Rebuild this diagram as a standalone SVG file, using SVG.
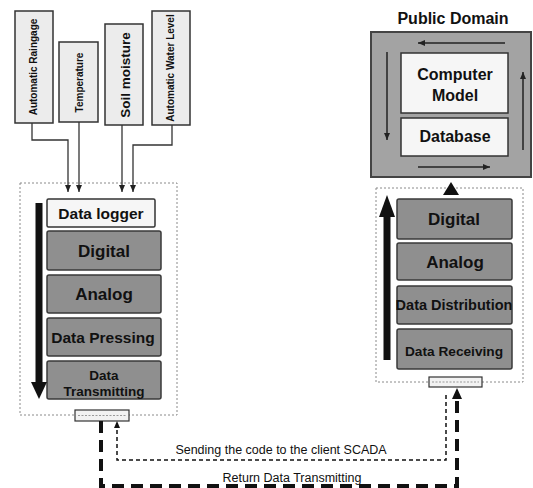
<svg xmlns="http://www.w3.org/2000/svg" width="533" height="488" viewBox="0 0 533 488">
  <style>
    text { font-family: "Liberation Sans", Arial, sans-serif; font-weight: bold; fill: #111; }
    .sensor { fill: #ececec; stroke: #333; stroke-width: 1.5; }
    .stage { fill: #8f8f8f; stroke: #3a3a3a; stroke-width: 1.5; }
    .white { fill: #f6f6f6; stroke: #333; stroke-width: 1.5; }
    .frame { fill: none; stroke: #8a8a8a; stroke-width: 1; stroke-dasharray: 2 2; }
    .wire { fill: none; stroke: #333; stroke-width: 1.3; }
    .thin { fill: none; stroke: #222; stroke-width: 1.5; }
    .port { fill: #f2f2f2; stroke: #333; stroke-width: 1.2; }
    .portdots { stroke: #999; stroke-width: 1; stroke-dasharray: 2 1.5; }
    .mid { text-anchor: middle; }
    .label { font-weight: normal; font-size: 12.5px; }
  </style>
  <defs>
    <marker id="tip" markerUnits="userSpaceOnUse" markerWidth="8" markerHeight="8" refX="7" refY="4" orient="auto">
      <path d="M0,1 L7,4 L0,7 Z" fill="#222"/>
    </marker>
  </defs>

  <!-- sensors -->
  <g id="raingage">
    <rect class="sensor" x="15" y="11" width="38" height="112"/>
    <text class="mid" font-size="10" transform="translate(37,67) rotate(-90)">Automatic Raingage</text>
  </g>
  <g id="temperature">
    <rect class="sensor" x="59" y="42" width="39" height="80"/>
    <text class="mid" font-size="10" transform="translate(82.5,82.5) rotate(-90)">Temperature</text>
  </g>
  <g id="soil-moisture">
    <rect class="sensor" x="105" y="24" width="38" height="101"/>
    <text class="mid" font-size="13.5" transform="translate(129.5,75) rotate(-90)">Soil moisture</text>
  </g>
  <g id="water-level">
    <rect class="sensor" x="152" y="11" width="38" height="114"/>
    <text class="mid" font-size="10" transform="translate(174,68) rotate(-90)">Automatic Water Level</text>
  </g>

  <!-- field station -->
  <g id="station">
    <rect class="frame" x="20" y="183" width="157" height="232"/>
    <g id="data-logger">
      <rect class="white" x="47" y="199" width="108" height="28" rx="1.5"/>
      <text class="mid" x="101" y="219" font-size="15.5">Data logger</text>
    </g>
    <g id="digital-left">
      <rect class="stage" x="47" y="231" width="114" height="39" rx="2"/>
      <text class="mid" x="104" y="257" font-size="17">Digital</text>
    </g>
    <g id="analog-left">
      <rect class="stage" x="47" y="275" width="114" height="38" rx="2"/>
      <text class="mid" x="104" y="300" font-size="17">Analog</text>
    </g>
    <g id="data-pressing">
      <rect class="stage" x="47" y="318" width="114" height="38" rx="2"/>
      <text class="mid" x="103" y="343" font-size="15.5">Data Pressing</text>
    </g>
    <g id="data-transmitting">
      <rect class="stage" x="47" y="361" width="114" height="38" rx="2"/>
      <text class="mid" x="104" y="380" font-size="13.5">Data</text>
      <text class="mid" x="104" y="396" font-size="13.5">Transmitting</text>
    </g>
    <g id="flow-down">
      <line x1="39" y1="203" x2="39" y2="383" stroke="#111" stroke-width="7"/>
      <polygon points="31,382 47,382 39,399" fill="#111"/>
    </g>
    <g id="port-left">
      <rect class="port" x="75" y="410" width="54" height="11"/>
      <line class="portdots" x1="78" y1="415.5" x2="126" y2="415.5"/>
    </g>
  </g>

  <!-- public domain -->
  <g id="public-domain">
    <text class="mid" x="453" y="24" font-size="16">Public Domain</text>
    <rect x="371" y="32" width="160" height="145" fill="#a3a3a3" stroke="#444" stroke-width="2"/>
    <g id="computer-model">
      <rect class="white" x="401" y="53" width="107" height="60"/>
      <text class="mid" x="455" y="80" font-size="16">Computer</text>
      <text class="mid" x="455" y="101" font-size="16">Model</text>
    </g>
    <g id="database">
      <rect class="white" x="401" y="118" width="107" height="38"/>
      <text class="mid" x="455" y="142" font-size="16">Database</text>
    </g>
    <g id="cycle">
      <line class="thin" x1="505" y1="43" x2="418" y2="43" marker-end="url(#tip)"/>
      <line class="thin" x1="387" y1="52" x2="387" y2="140" marker-end="url(#tip)"/>
      <line class="thin" x1="418" y1="167" x2="490" y2="167" marker-end="url(#tip)"/>
      <line class="thin" x1="523" y1="150" x2="523" y2="72" marker-end="url(#tip)"/>
    </g>
  </g>

  <!-- receiving station -->
  <g id="receiver">
    <rect class="frame" x="376" y="188" width="147" height="194"/>
    <g id="digital-right">
      <rect class="stage" x="397" y="199" width="115" height="40" rx="2"/>
      <text class="mid" x="454" y="225" font-size="17">Digital</text>
    </g>
    <g id="analog-right">
      <rect class="stage" x="397" y="243" width="115" height="37" rx="2"/>
      <text class="mid" x="455" y="268" font-size="17">Analog</text>
    </g>
    <g id="data-distribution">
      <rect class="stage" x="397" y="286" width="115" height="38" rx="2"/>
      <text class="mid" x="454" y="310" font-size="14.5">Data Distribution</text>
    </g>
    <g id="data-receiving">
      <rect class="stage" x="397" y="329" width="115" height="40" rx="2"/>
      <text class="mid" x="454" y="356" font-size="13.7">Data Receiving</text>
    </g>
    <g id="flow-up">
      <line x1="387" y1="360" x2="387" y2="216" stroke="#111" stroke-width="7"/>
      <polygon points="379,217 395,217 387,195" fill="#111"/>
    </g>
    <polygon id="uplink" points="451,182 443,195 459,195" fill="#111"/>
    <g id="port-right">
      <rect class="port" x="429" y="377" width="53" height="10"/>
      <line class="portdots" x1="432" y1="382" x2="479" y2="382"/>
    </g>
  </g>

  <!-- connectors -->
  <g id="connectors">
    <path class="wire" d="M32,123 V140 H68 V192" marker-end="url(#tip)"/>
    <path class="wire" d="M79,122 V192" marker-end="url(#tip)"/>
    <path class="wire" d="M122,125 V192" marker-end="url(#tip)"/>
    <path class="wire" d="M172,125 V145 H133 V192" marker-end="url(#tip)"/>

    <path d="M446,395 V460 H117 V427" fill="none" stroke="#111" stroke-width="1.5" stroke-dasharray="4 3"/>
    <polygon points="114,428 120,428 117,421" fill="#111"/>

    <path d="M101,421 V486 H457 V398" fill="none" stroke="#111" stroke-width="4" stroke-dasharray="12 7"/>
    <polygon points="452,399 462,399 457,388" fill="#111"/>

    <text class="mid label" x="281" y="454">Sending the code to the client SCADA</text>
    <text class="mid label" x="292" y="482">Return Data Transmitting</text>
  </g>
</svg>
